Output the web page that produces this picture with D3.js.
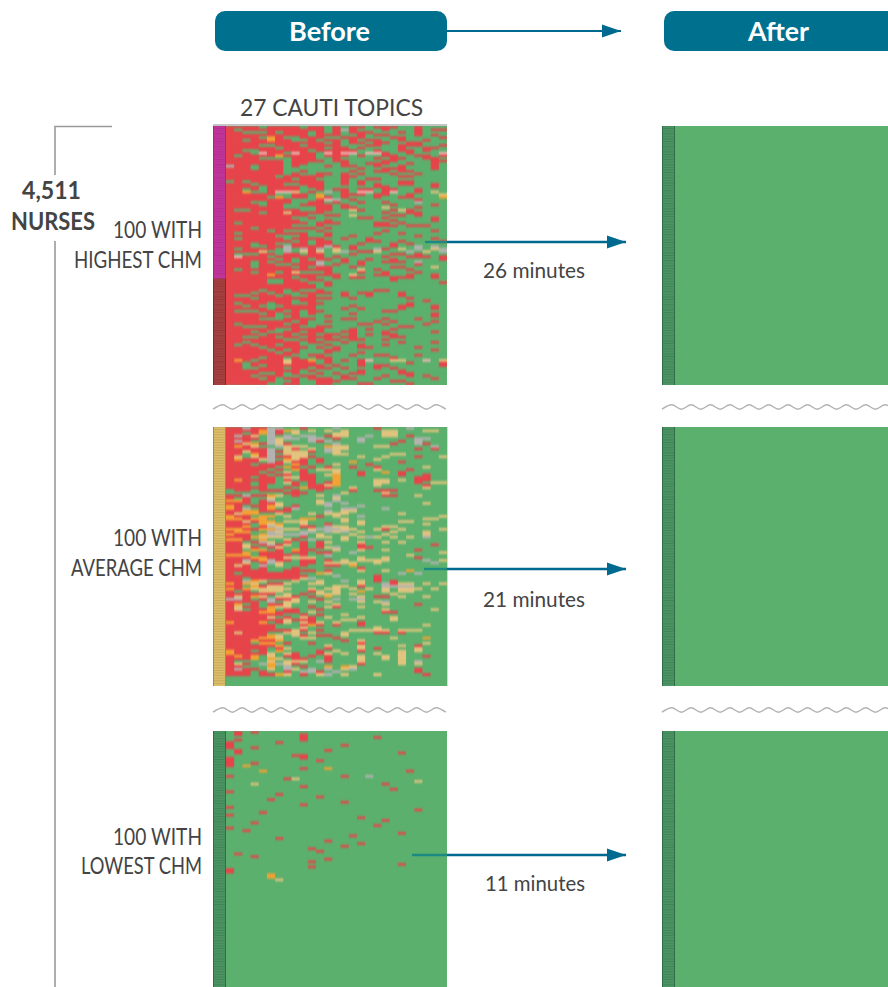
<!DOCTYPE html>
<html>
<head>
<meta charset="utf-8">
<script src="https://cdn.jsdelivr.net/npm/d3@7"></script>
<style>
  html, body { margin: 0; padding: 0; background: #fff; overflow: hidden; }
  svg { display: block; }
  text { font-family: Lato, "Open Sans", sans-serif; fill: #444; }
</style>
</head>
<body>
<svg id="chart" width="888" height="987"></svg>
<script>
// One string per nurse, one letter per topic (r=not known, o, t, s, p = in between, g=mastered)
const highestRows = [
"rrrrgrrrr grrgrgrrg rrrggrggg","rgrrrrrrr rrrgrsrgg grgggrgrr","rrgggrgrr rgrgrgrrr gggrgrggg","rrrrrrrrr rgrrrggrg rrgggrgrg",
"rrrrgorgg rrrggrrrg ggrrggggr","rrgrrorrg grgrrgrgr rggrggrgg","rrrrrrrrr rrrgrgrrg rrggrrggg","rrrrggrrr grrrrgggr rggrrrggr",
"rrrrrrgrr rrrgrrgrg gggrggrrg","rrggrrrrr rgrrrrrgg rggrrgrgg","rrrgprrgp rrgprppgp prggrgggp","rgrrrrorr rrgrrrgrg grrggrrgr",
"rrrrggggr rrggrgggg rgrrggrrg","rrrrrrrgr rrrgrrggg grrggggrr","rrrrrrrgr rggggrggr rrggrggrg","srrgrrrgr gggrgrrgg rggrgggrg",
"rrrgrrrgg gggggggrg grrrgggrg","rrrrrrrgg rgggggrgg rrgrrgggg","rrrrrrrgr ggrrgrgrg ggrggrggg","rrrrrrgrr rrrggrrgg gggrrgggg",
"rrrrrrrrg rrgggrggr rgggggggg","grgrrrrrr rrrggrgrg gggrrgggg","rrrgrrrgg rrrggrgrg rggrrggrg","rrrrgrrrr grrgggggg rrgggggrg",
"rrgrgrrrr ggrgrrgrr grrggrggg","rroggrppt grgsgrgpp grpggrgtg","rrrrrrggr rgoggrrrg rrggrgggt","rrrrrgogr rgorgrggg rggrrgggo",
"rrrrrrrrg ggrpsgrgg gggggrggg","rrrggrrrg grrgrggrg grgggsggg","rrrrgrrgg rrrrgrggg ggrggggrg","rrrrrrrgg ggrrgrrgg gtgggrggg",
"rggrrrrrr ggrrggtrg ggrtrgggg","rrrrgrrtr rrrgggggg grggrrggg","rrrrrrrrr rggrrgtgg ggrrgrggg","rrrrrrrrg grgggggrr grgggggrg",
"rrrrrrrrr gggrggggg ggrggggrg","rgrrrrrrr rgrrrgggg rrgrggggg","rrrrrrrrg ggrgggggg rrrgrrrgg","rrrgrrrrr rrgrggggg ggggggggg",
"rrrrrgrgg ggrgggggg grgggggrg","rgrrrrrrr rggrggggg rggrggggg","rrrrrrggg rggrggrgg gggggrggg","rgrrrrrgr rrrggrggr gggggggrg",
"rrrrrrrrg rgrrggggr rggrggggr","rrrgrrggr rgrrgggrg ggrgrgggg","rrrggrrsr rrrsrgrgg ggrggsgsg","rgrrrrgsg srsgtgrgg srgtgsgts",
"rrrrtggsg trtgtsgrr tgggsgtgs","rgggrrgrr grrgggrgg ggrrgrggg","rprrrgrrr rrrgrgggg grggrrrgr","rrrrrrgrg rgrrgrggr ggrgggggr",
"rrrgrgrrg rrsggrgrg grrrgsggg","rrrgrrggr rrsgrggrg gggggrggg","rrrgrrrrg rgrrggrgg ggrrgggtg","rgrrrrrrr rrrrgggtg rgggrgggg",
"rrrgrrgrt gggrgggrg grgggrggg","rrrrrorrr rrrrrgtgg rrggrggrg","rrrrrrrrg rrggrgrrg ggrrrggrg","rrrrrggrr grrgggggg ggrgggggg",
"rrrrrggrr rggrggggg ggggggggr","rrrrrrrrr rrgrggggg ggggggggg","rrrrrrrrr rrggggggg ggggggggg","rrrrgrrgr ggrgggggg rrggggggg",
"rrrgrgrgg rrrrgrgrr gggrggggg","rggrrrgrg grgggrggr gggrggggg","rrrgrrrrr rrrrggrgg ggggrgggg","rrrrrrrrg rrggggggg ggggggrgg",
"rgrrrgrrg grrgggggg ggggrgggg","rrgrgggrr rrggggrgg gggrrggrg","rrrrrgrrr rrgggrgrg gggrgggrg","rgggrrrgr grrgggggg grrgggggg",
"rrrrgrgrr grggggrgg gggggggrg","rrrrrrggr gggrggggg gggggggrg","rrrrgggrr rrgggrrgg grgggrggg","rrrrrrrrg rggrggggg rgrggggrg",
"rgrrrrrgr rggggggrr grggggrgg","rrgggrrrr ggrrggggg gggrrgggg","rrrrrrggr rrrgggrgr ggrgggggg","rrrgrggrr grrggrrgg grgggggrg",
"rrrrgrrrg rrgrrgrgr grrgggggg","rrggrrgrr grrrgrrgg ggrrggggg","rrrrrrrgg rrgrrgrrg grggggggg","rrgrrrrrr grrggrggg gggrgggrg",
"rgrgrrgrr gggrgggrg grggggggg","rrrrgrrrr rgrgrggrr gggggrggg","rrrrrgrgr gggrrgggg gggggggrg","rrrrrrgrr gggrgggrg ggggggggg",
"rrrrrrrrg grrgggrgg rrgggrggg","rrrrgrrgr ggrrggggg ggrgggggg","rorgrrrtr rogrgrgrp ggttggpgt","rrgrrrrtr rrgrgggrg ggggrgggr",
"rrgrgrrrr rrrgrggrg rrggggggr","rrggrrrgr rgrrgrggg rgrgggggg","rrrrrrrrr grgggggrg gggrggggg","rrrrggrgr ggrgrgrrg gggrrgggg",
"rrrgrrrgg rrgggrggg grggrgrgg","rrrrgrgrr grrrgrrgg rggggggrg","rrrrrrggr ggrrrgggg ggrrggggg","rrrrrggrr ggrrgggrr ggggrgggg"
];

const averageRows = [
"rrsrrssgg rgggsgggg rgggsgggg","rrrrosrot gtgtgtggg gttgggttg","rrgrosrgt ggggttggg gttgggggg","rsrtgsgsg ssgrttggs gttgrgggg",
"rrrrgstss gssgrggsg gggggssgg","rsrggstgg gsrsgggsg gggrgsggg","rrtorstrg ggggsgggg ggrggsrgg","rortggstt tggottggg ttgggggsg",
"rrrrrsgtr gtgsttggg gggggrgrg","rrtrrsrtt trgstgggg ggggggggg","rrgorsgtt tgggttggg ggttggggg","rtgtrsrrt trgggggtg gtgggrggt",
"rorrtsgot rgrgggggg tgggggggg","rrrrgsrtr rgrgggogg gggrggggg","rrrgrrrgo rgggtgggr ggggggggg","rrrrrrgor grgrggrgg rgggggtgg",
"rrrrrgrgo rgtttgggg tgggrgggg","rrrrgrgtg rgggtggrg gogrggggg","rrrrrgrrg rrgtoggrg gggrggrgg","rrrgrrgtt rrggogggg gggggrrgg",
"rorrrrgrg rrggogggg ttgtgrrgg","rrrgrrgtr grgrogggg ttgggrgtt","rrrgrgggr grrtogggg tgggggrgg","rrrrrggrg orrrggtgg ggggggtgg",
"grrgrrrgr ggrgggrgg rrrgggggg","gggggggrr rggggtggg gtggggggg","rrsrrotgr ggtgsgggg grrggtggg","rgrggtggg ggggtgggg ggggggggg",
"oorgrsggg ggtgsgggg ggggggggg","rrrgrrtgg ggtsgsggg ggggggtgg","orgrrotgr gggsgggsg ggggggggg","orsgrogrs gggggssgg gsggggggg",
"rroorrrrg gggsgttgg ggggggggg","rtooggtgg gtgtttggg gggtggggg","orrgoogtg ggrgtggsg ggggggggt","ooroogggg oogggtggg ggggggttg",
"rrtroogtt tggggtgtg gggttgggg","rrrgotogg tggrgggtg ggggggtgg","rrogrstgg rrgsttggg gttgggggg","oorroostt gtsssttgg trgtggggt",
"rooggstgg ssgstsgtg ggtgggtgg","orrgossss sgtgggtgg gtggggtgg","rrrotttgg rgttgtgts tgtgtgsgg","oorgoggtr gsgggtggg ggggggggg",
"rrgrstgrg rgrtgggtg gtgtggggg","rrtgrsrtg rgrggggrg gggggggrg","rrtrgrtgg rgrtsggrr ggggggggg","rrgoogrgo rrggtggtg gtgggrggg",
"rrogrrrgr rgrrggsgg ggggggggt","ooogrrrrg rggsggggg ggggtgggg","rrroorrtt ttgggggtg gtgggrggg","rrsrosrrg rrgrgtgtt ttggggsgt",
"rrtgrstgg rrgttttgg tggggggsg","rtrgsgtgg rggrrgogg ggggggggg","rrrgrgggr gggggggrg ggggggggg","rrrrrggrr rrgrgggtg gtggogggg",
"rgrrrrrrr ggotggggg gggsgsggg","rrrrrrrrr rgggsgggg rgggggggg","rrgrrrrrr tsggggggg rgggggggg","rrsotgggt ggtggsgtg rgrgggggg",
"orotgrrtg gttggggtg gsrttgtgt","rrgorttgg ggggttgrg gssssgggg","orotttttg gtgttgtgt gtgtttgtg","rgrgtttgg grtgtggog gtgttgggg",
"rrrrrrgtg rgtttgtgg ggtgggggg","rtrotgttr grgogggtg rrgtggtgg","ssrgrsrrt ggrgsgssg ggggggggg","rrrrgsgtt gtgtgggtg tsggggggg",
"rogrgrrtg ggggtgggg gtgggrggg","rtrrgottg grgtrggtg ggggggggg","rtgrrogrr ggrgggggg gtgggggtg","rrrroorrr gtggggggg grrgggggg",
"rrrrrrrgg rgrggtggg ggggggggg","rrrrrtgrg trgtgggtg ggtgggggg","rrrrrrrtr rrgggttgg ggtgggggg","orrrogrtg trtgtggrg ggggggggg",
"rrrrrrggg rorgrggrg ggggggtgg","rrrrrrggg tgggggggg tgggggggg","rrrrrrrrt rgrgggttt ttgtttggg","rtrrrggtt gtgggtggg rrgrggggg",
"rrrrrotgt rgrrgtggg ggggggggg","rrrrootgg ttggrgggg ggtgggogg","rrrorrogg gggggrgtg ggggggggg","rrrgoogrg grgggggrg ggggggtgg",
"rrrrrrogg gggtgggtg gggtgrggg","rrrrrgrtg gggrgggtg rggggtggg","orrgrgogg ggrgtggrg gggtgtggg","orrrrtgtr ggrtgtggg tggtggggg",
"rorogtgrr grgrgggtg gtgtggrgg","rrrogotgr rggrgggtg gtgtggggg","rggggtgtt tgsrgggtg gggtgsggg","rtrgsostr gggggggrg gggtgtggg",
"rrgggogsg rggogotgg ggggggggg","rsrrgtgst gsgsgtsgg gggggrggg","rrrgrggrg ssrgsgggg gggggrggg","rrrgrrotg rgtsgtggg tgggggrgg"
];

// Only the cells of the lowest group that are not green: [nurse, topic, status]
const lowestCells = [
[0,1,"r"],[1,1,"r"],[0,3,"r"],[3,1,"r"],[4,0,"r"],[5,0,"r"],[6,0,"r"],[6,3,"r"],[7,1,"r"],[8,1,"r"],[4,6,"r"],
[1,9,"r"],[2,9,"r"],[3,9,"r"],[2,18,"r"],[5,14,"r"],[7,12,"r"],[8,21,"r"],[9,8,"r"],[9,9,"r"],[10,9,"r"],[11,11,"r"],
[10,0,"r"],[11,0,"r"],[12,0,"r"],[13,0,"r"],[12,3,"r"],[13,2,"o"],[14,9,"r"],[14,12,"o"],[15,4,"o"],[15,22,"r"],[17,14,"r"],
[17,17,"s"],[17,0,"r"],[18,8,"t"],[18,7,"r"],[19,23,"t"],[20,3,"t"],[20,19,"r"],[21,9,"r"],[22,20,"r"],[23,0,"r"],[24,6,"r"],
[25,11,"r"],[26,5,"r"],[27,14,"r"],[28,9,"r"],[29,0,"r"],[30,23,"r"],[31,4,"r"],[32,0,"r"],[33,16,"r"],[34,19,"r"],[35,3,"r"],
[36,18,"r"],[37,0,"r"],[38,2,"r"],[39,21,"r"],[40,15,"r"],[41,6,"r"],[42,12,"r"],[43,16,"r"],[44,14,"r"],[45,10,"r"],[46,11,"r"],
[47,1,"r"],[48,3,"r"],[49,12,"r"],[50,10,"r"],[51,21,"r"],[52,10,"r"],[53,0,"r"],[54,0,"r"],[55,5,"o"],[56,5,"o"],[57,6,"t"]
];

const groupLabels = [["100 WITH", "HIGHEST CHM"], ["100 WITH", "AVERAGE CHM"], ["100 WITH", "LOWEST CHM"]];
const groupMinutes = ["26 minutes", "21 minutes", "11 minutes"];
const stripRuns = [[["m", 59], ["d", 41]], [["t", 100]], [["k", 100]]];
const stageLabels = ["Before", "After"];
const topicsLabel = "27 CAUTI TOPICS";
const totalLabel = ["4,511", "NURSES"];

const topics = d3.range(27);
const nurses = d3.range(100);

const cellColor = d3.scaleOrdinal()
  .domain(["g", "r", "o", "t", "s", "p"])
  .range(["#5bb06d", "#e8434a", "#f4a233", "#e2c47e", "#b3b3b0", "#ecb9b4"]);
const stripColor = d3.scaleOrdinal()
  .domain(["m", "d", "t", "k"])
  .range(["#c2339a", "#a63f3f", "#dcbd6a", "#4b9463"]);
const stripLine = d3.scaleOrdinal()
  .domain(["m", "d", "t", "k"])
  .range(["#9c2a80", "#7a2c2c", "#a88a3c", "#2f6d46"]);

const svg = d3.select("#chart");
const defs = svg.append("defs");
const blur = defs.append("filter").attr("id", "soft")
  .attr("x", "-5%").attr("y", "-5%").attr("width", "110%").attr("height", "110%")
  .attr("color-interpolation-filters", "sRGB");
blur.append("feGaussianBlur").attr("stdDeviation", "0.7 0.85");

const navy = "#00698f";
defs.append("marker").attr("id", "head").attr("markerUnits", "userSpaceOnUse")
  .attr("viewBox", "0 0 19 14").attr("refX", 19).attr("refY", 7)
  .attr("markerWidth", 19).attr("markerHeight", 14).attr("orient", "auto")
  .append("path").attr("d", "M0,0.5L19,7L0,13.5Z").attr("fill", navy);

const panelTops = [[126, 385], [427, 686], [731, 990]];
const columns = [{strip: 213, start: 226, end: 447}, {strip: 662, start: 675, end: 896}];

function parseRows(rows) {
  return rows.map(r => r.replace(/ /g, "").split(""));
}
function lowestRows() {
  const rows = nurses.map(() => topics.map(() => "g"));
  lowestCells.forEach(([n, t, s]) => { rows[n][t] = s; });
  return rows;
}
const beforeRows = [parseRows(highestRows), parseRows(averageRows), lowestRows()];
const afterRows = nurses.map(() => topics.map(() => "g"));

function drawPanel(col, top, rows, runs, id) {
  const x = d3.scaleBand().domain(topics).range([col.start, col.end]);
  const y = d3.scaleBand().domain(nurses).range(top);
  const cells = rows.flatMap((row, n) => row.map((s, t) => ({n, t, s})));

  defs.append("clipPath").attr("id", id)
    .append("rect").attr("x", col.strip).attr("y", top[0])
    .attr("width", col.end - col.strip).attr("height", top[1] - top[0]);

  const g = svg.append("g").attr("clip-path", `url(#${id})`).append("g").attr("filter", "url(#soft)");
  g.append("rect").attr("x", col.start).attr("y", top[0] - 2)
    .attr("width", col.end - col.start + 2).attr("height", top[1] - top[0] + 4)
    .attr("fill", cellColor("g"));
  g.selectAll("rect.cell").data(cells).join("rect").attr("class", "cell")
    .attr("x", d => x(d.t)).attr("y", d => y(d.n))
    .attr("width", x.bandwidth() + 0.5).attr("height", y.bandwidth() + 0.5)
    .attr("fill", d => cellColor(d.s));

  // colour strip on the left, one row per nurse
  const levels = runs.flatMap(([k, count]) => d3.range(count).map(() => k));
  const strip = svg.append("g").attr("clip-path", `url(#${id})`);
  strip.selectAll("rect").data(levels).join("rect")
    .attr("x", col.strip).attr("y", (d, i) => y(i))
    .attr("width", col.start - col.strip).attr("height", y.bandwidth() + 0.5)
    .attr("fill", d => stripColor(d));
  strip.selectAll("line.row").data(levels).join("line").attr("class", "row")
    .attr("x1", col.strip).attr("x2", col.start)
    .attr("y1", (d, i) => y(i)).attr("y2", (d, i) => y(i))
    .attr("stroke", d => stripLine(d)).attr("stroke-width", 0.7).attr("opacity", 0.55);
  // dark edges of the strip follow the row colour
  [col.strip + 0.5, col.start - 0.5].forEach(ex => {
    strip.selectAll(null).data(levels).join("line")
      .attr("x1", ex).attr("x2", ex)
      .attr("y1", (d, i) => y(i)).attr("y2", (d, i) => y(i) + y.bandwidth() + 0.3)
      .attr("stroke", d => stripLine(d)).attr("stroke-width", 1);
  });
}

panelTops.forEach((top, i) => {
  drawPanel(columns[0], top, beforeRows[i], stripRuns[i], "before" + i);
  drawPanel(columns[1], top, afterRows, [[stripRuns[2][0][0], 100]], "after" + i);
});

// grey top edge of the first panel
svg.append("line").attr("x1", 213).attr("x2", 447).attr("y1", 125).attr("y2", 125)
  .attr("stroke", "#c4c4c4").attr("stroke-width", 2);
svg.append("line").attr("x1", 447.5).attr("x2", 447.5).attr("y1", 427).attr("y2", 686)
  .attr("stroke", "#d8d8d8").attr("stroke-width", 1);

function fitText(txt, x1, x2, base, size, weight, color) {
  const t = svg.append("text").attr("x", x1).attr("y", base).attr("font-size", size).attr("font-weight", weight || 400)
    .attr("textLength", x2 - x1).attr("lengthAdjust", "spacingAndGlyphs").text(txt);
  if (color) t.style("fill", color);
}

// stage headers
[[215, 232, 289, 370], [664, 260, 748, 809]].forEach(([bx, bw, t1, t2], i) => {
  svg.append("rect").attr("x", bx).attr("y", 11).attr("width", bw).attr("height", 40).attr("rx", 10)
    .attr("fill", "#00708f");
  fitText(stageLabels[i], t1, t2, 41, 27, 700, "#fff");
});
svg.append("line").attr("x1", 447).attr("x2", 621).attr("y1", 31).attr("y2", 31)
  .attr("stroke", navy).attr("stroke-width", 2).attr("marker-end", "url(#head)");

fitText(topicsLabel, 240, 423, 116, 24);

// bracket for all nurses
const bracket = d3.path();
bracket.moveTo(112, 126.5); bracket.lineTo(55, 126.5); bracket.lineTo(55, 175);
bracket.moveTo(55, 241); bracket.lineTo(55, 987);
svg.append("path").attr("d", bracket.toString()).attr("fill", "none").attr("stroke", "#9a9a9a").attr("stroke-width", 1.6);
fitText(totalLabel[0], 22, 81, 199, 25, 700);
fitText(totalLabel[1], 11, 95, 230, 25, 700);

// group labels
const labelBoxes = [[[113, 202, 238], [74, 202, 268]], [[113, 202, 546], [71, 202, 576]], [[113, 202, 845], [81, 202, 874]]];
groupLabels.forEach((lines, i) => {
  lines.forEach((txt, l) => {
    const [x1, x2, base] = labelBoxes[i][l];
    fitText(txt, x1, x2, base, 24);
  });
});

// arrows from before to after
const arrowY = [242, 569, 855];
const arrowStart = [425, 424, 412];
const minuteBoxes = [[483, 585, 278], [483, 585, 607], [485, 585, 891]];
arrowY.forEach((ay, i) => {
  svg.append("line").attr("x1", 447).attr("x2", 626).attr("y1", ay).attr("y2", ay)
    .attr("stroke", navy).attr("stroke-width", 2.4).attr("marker-end", "url(#head)");
  svg.append("line").attr("x1", arrowStart[i]).attr("x2", 447).attr("y1", ay).attr("y2", ay)
    .attr("stroke", "#1a8a83").attr("stroke-width", 2.4);
  const [x1, x2, base] = minuteBoxes[i];
  fitText(groupMinutes[i], x1, x2, base, 22);
});

// wavy breaks between the groups
const waveLine = d3.line().x(d => d[0]).y(d => d[1]).curve(d3.curveCatmullRom);
[407, 710].forEach(wy => {
  [[213, 445], [662, 895]].forEach(([a, b]) => {
    const pts = d3.range(a, b + 1, 9.7).map((px, i) => [px, wy + (i % 2 ? -2.2 : 2.2)]);
    svg.append("path").attr("d", waveLine(pts)).attr("fill", "none")
      .attr("stroke", "#b3b3b3").attr("stroke-width", 1.5);
  });
});
</script>
</body>
</html>
